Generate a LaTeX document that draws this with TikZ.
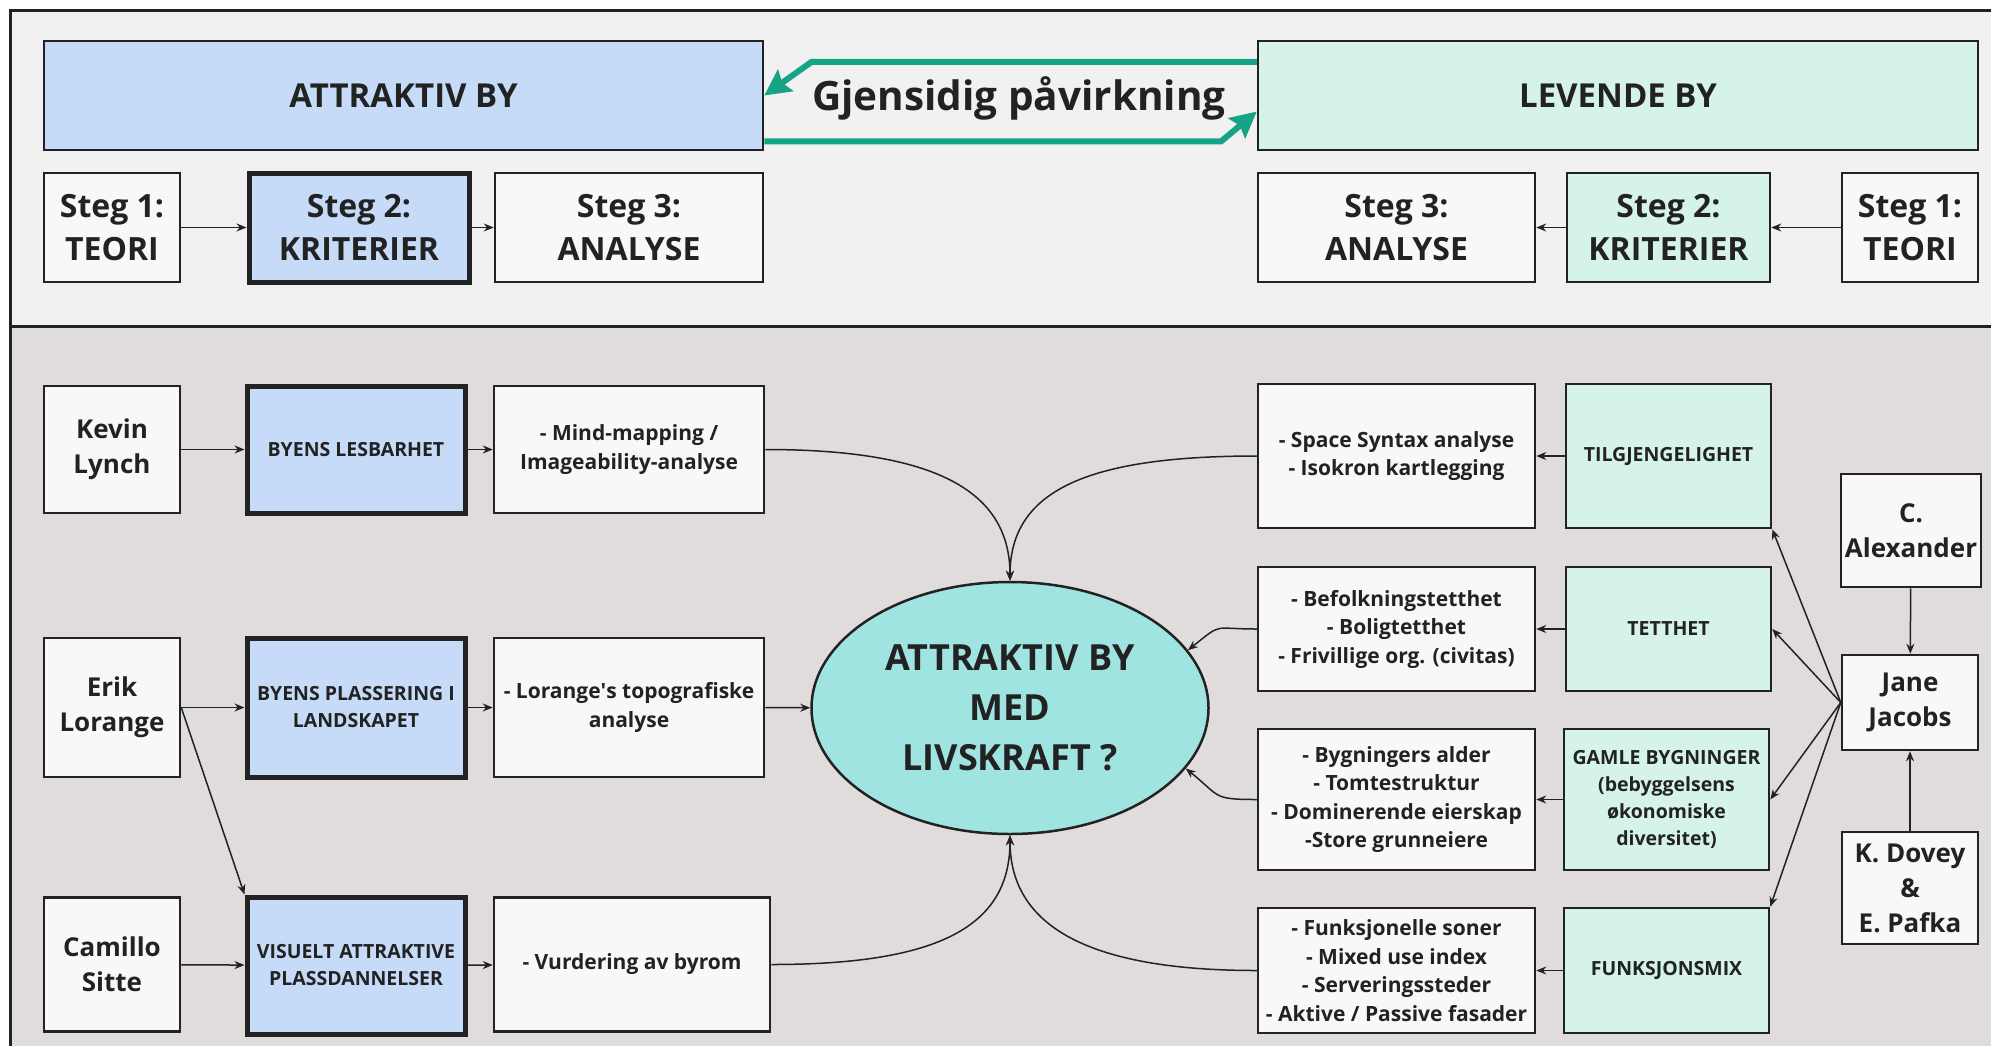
\documentclass[tikz,border=0pt]{standalone}
\usepackage{fontspec}
\setmainfont{Open Sans}
\usetikzlibrary{arrows.meta,shapes.geometric}

\definecolor{topbg}{HTML}{F1F1F1}
\definecolor{botbg}{HTML}{DFDCDB}
\definecolor{boxwhite}{HTML}{F8F8F8}
\definecolor{attrblue}{HTML}{C6DBF8}
\definecolor{levgreen}{HTML}{D5F3E9}
\definecolor{coreteal}{HTML}{A0E4E2}
\definecolor{arrowgreen}{HTML}{17A385}
\definecolor{ink}{HTML}{222222}

\begin{document}
\begin{tikzpicture}[
        x = 1pt, y = -1pt,
        every node/.style = {align = center, inner sep = 0pt, text = ink},
        box/.style 2 args = {
                rectangle, draw = ink, line width = 2.5pt, fill = boxwhite,
                minimum width = #1, minimum height = #2
            },
        attrcrit/.style = {fill = attrblue, line width = 5pt},
        levcrit/.style = {fill = levgreen},
        headline/.style = {font = \fontsize{33}{40}\selectfont\bfseries},
        steg/.style = {font = \fontsize{32}{43}\selectfont\bfseries},
        person/.style = {font = \fontsize{26}{35}\selectfont\bfseries},
        method/.style = {font = \fontsize{21}{28.5}\selectfont\bfseries},
        crit/.style = {font = \fontsize{19.5}{27}\selectfont\bfseries},
        flow/.style = {draw = ink, line width = 1.5pt, -{Stealth[length = 10pt, width = 8pt]}},
        mutual/.style = {draw = arrowgreen, line width = 6pt,
                -{Stealth[length = 26pt, width = 26pt, inset = 4pt]}}
    ]

    \useasboundingbox (0, 0) rectangle (1991, 1045);
    \clip (0, 0) rectangle (1991, 1045);
    \fill[white] (0, 0) rectangle (1991, 1045);
    \fill[topbg] (10, 10) rectangle (2010, 326);
    \fill[botbg] (10, 326) rectangle (2010, 1060);
    \draw[ink, line width = 3pt] (2010, 10) -- (10, 10) -- (10, 1060)
    (10, 326) -- (2010, 326);

    % top part
    \node[box = {719}{109}, fill = attrblue, headline] (attr) at (403.5, 95.5) {ATTRAKTIV BY};
    \node[box = {720}{109}, levcrit, headline] (lev) at (1618, 95.5) {LEVENDE BY};
    \node[font = \fontsize{40.5}{46}\selectfont\bfseries] (mutualtxt) at (1019, 98) {Gjensidig påvirkning};

    \node[box = {136}{109}, steg] (s1a) at (112, 227.5) {Steg 1:\\TEORI};
    \node[box = {220}{109}, attrcrit, steg] (s2a) at (359, 227.5) {Steg 2:\\KRITERIER};
    \node[box = {268}{109}, steg] (s3a) at (629, 227.5) {Steg 3:\\ANALYSE};
    \node[box = {277}{109}, steg] (s3l) at (1396.5, 227.5) {Steg 3:\\ANALYSE};
    \node[box = {203}{109}, levcrit, steg] (s2l) at (1668.5, 227.5) {Steg 2:\\KRITERIER};
    \node[box = {136}{109}, steg] (s1l) at (1910, 227.5) {Steg 1:\\TEORI};

    \draw[mutual] ([yshift = -22pt]lev.north west) -- ++(-445, 0) -- (attr.east);
    \draw[mutual] ([yshift = 10pt]attr.south east) -- ++(457, 0) -- ([yshift = -16pt]lev.west);
    \draw[flow] (s1a) -- (s2a);
    \draw[flow] (s2a) -- (s3a);
    \draw[flow] (s1l) -- (s2l);
    \draw[flow] (s2l) -- (s3l);

    % attraktiv by
    \node[box = {136}{127}, person] (lynch) at (112, 449.5) {Kevin\\Lynch};
    \node[box = {218}{127}, attrcrit, crit] (lesbar) at (356, 449.5) {BYENS LESBARHET};
    \node[box = {270}{127}, method] (mindmap) at (629, 449.5) {- Mind-mapping /\\Imageability-analyse};

    \node[box = {136}{139}, person] (lorange) at (112, 707.5) {Erik\\Lorange};
    \node[box = {218}{139}, attrcrit, crit] (plassering) at (356, 707.5) {BYENS PLASSERING I\\LANDSKAPET};
    \node[box = {270}{139}, method] (topografi) at (629, 707.5) {- Lorange\textquotesingle s topografiske\\analyse};

    \node[box = {136}{134}, person] (sitte) at (112, 964.5) {Camillo\\Sitte};
    \node[box = {218}{137}, attrcrit, crit] (plassdann) at (356, 965.5) {VISUELT ATTRAKTIVE\\PLASSDANNELSER};
    \node[box = {276}{134}, method] (byrom) at (632, 964.5) {- Vurdering av byrom};

    \node[ellipse, draw = ink, line width = 2.5pt, fill = coreteal,
        minimum width = 397, minimum height = 252,
        font = \fontsize{36}{50}\selectfont\bfseries] (core) at (1010, 708) {ATTRAKTIV BY\\MED\\LIVSKRAFT ?};

    % levende by
    \node[box = {277}{144}, method] (syntax) at (1396.5, 456) {- Space Syntax analyse\\- Isokron kartlegging};
    \node[box = {205}{144}, levcrit, crit] (tilgj) at (1668.5, 456) {TILGJENGELIGHET};
    \node[box = {277}{124}, method] (befolk) at (1396.5, 629) {- Befolkningstetthet\\- Boligtetthet\\- Frivillige org. (civitas)};
    \node[box = {205}{124}, levcrit, crit] (tetthet) at (1668.5, 629) {TETTHET};
    \node[box = {277}{141}, method] (bygning) at (1396.5, 799.5) {- Bygningers alder\\- Tomtestruktur\\- Dominerende eierskap\\-Store grunneiere};
    \node[box = {205}{141}, levcrit, crit] (gamle) at (1666.5, 799.5) {GAMLE BYGNINGER\\(bebyggelsens\\økonomiske\\diversitet)};
    \node[box = {277}{125}, method] (funksjon) at (1396.5, 970.5) {- Funksjonelle soner\\- Mixed use index\\- Serveringssteder\\- Aktive / Passive fasader};
    \node[box = {205}{125}, levcrit, crit] (mix) at (1666.5, 970.5) {FUNKSJONSMIX};

    \node[box = {140}{113}, person] (alexander) at (1911, 530.5) {C.\\Alexander};
    \node[box = {136}{95}, person] (jacobs) at (1910, 702.5) {Jane\\Jacobs};
    \node[box = {136}{112}, person] (dovey) at (1910, 888) {K. Dovey\\\&\\E. Pafka};

    \draw[flow] (lynch) -- (lesbar);
    \draw[flow] (lesbar) -- (mindmap);
    \draw[flow] (lorange) -- (plassering);
    \draw[flow] (lorange.east) -- (plassdann.north west);
    \draw[flow] (plassering) -- (topografi);
    \draw[flow] (sitte) -- (plassdann);
    \draw[flow] (plassdann) -- (byrom);

    \draw[flow] (mindmap.east) .. controls +(170, 0) and +(0, -90) .. (core.north);
    \draw[flow] (topografi) -- (core);
    \draw[flow] (byrom.east) .. controls +(170, 0) and +(0, 90) .. (core.south);
    \draw[flow] (syntax.west) .. controls +(-170, 0) and +(0, -90) .. (core.north);
    \draw[flow] (befolk.west) .. controls +(-45, 0) and +(35, -28) .. (core.18);
    \draw[flow] (bygning.west) .. controls +(-45, 0) and +(35, 28) .. (core.-19);
    \draw[flow] (funksjon.west) .. controls +(-170, 0) and +(0, 90) .. (core.south);

    \draw[flow] (tilgj) -- (syntax);
    \draw[flow] (tetthet) -- (befolk);
    \draw[flow] (gamle) -- (bygning);
    \draw[flow] (mix) -- (funksjon);

    \draw[flow] (alexander) -- (jacobs);
    \draw[flow] (dovey) -- (jacobs);
    \draw[flow] (jacobs.west) -- (tilgj.south east);
    \draw[flow] (jacobs.west) -- (tetthet.east);
    \draw[flow] (jacobs.west) -- (gamle.east);
    \draw[flow] (jacobs.west) -- (mix.north east);

\end{tikzpicture}
\end{document}
